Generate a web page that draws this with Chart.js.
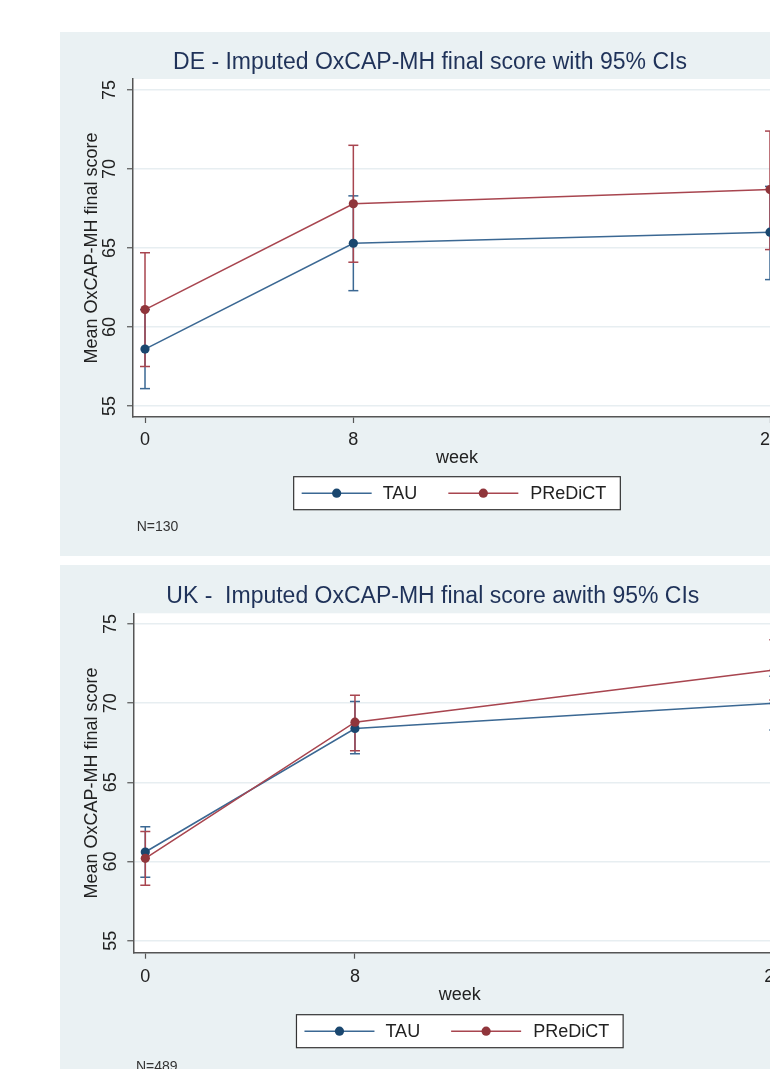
<!DOCTYPE html>
<html>
<head>
<meta charset="utf-8">
<script src="https://cdn.jsdelivr.net/npm/chart.js@4.4.1/dist/chart.umd.min.js"></script>
<style>
html, body { margin: 0; padding: 0; width: 770px; height: 1069px; overflow: hidden; background: #fff; }
.panel { position: absolute; left: 60px; width: 740px; background: #eaf1f3; }
#p1 { top: 32px; height: 524px; }
#p2 { top: 565px; height: 528px; }
canvas { display: block; }
</style>
</head>
<body>
<div class="panel" id="p1"><canvas id="c1" width="740" height="524"></canvas></div>
<div class="panel" id="p2"><canvas id="c2" width="740" height="528"></canvas></div>
<script>
var weeks = [0, 8, 24];
var yTicks = [55, 60, 65, 70, 75];
var seriesNames = ['TAU', 'PReDiCT'];

// DE, N=130
var deTau = [58.6, 65.3, 66.0];
var deTauLo = [56.1, 62.3, 63.0];
var deTauHi = [61.1, 68.3, 68.9];
var dePredict = [61.1, 67.8, 68.7];
var dePredictLo = [57.5, 64.1, 64.9];
var dePredictHi = [64.7, 71.5, 72.4];

// UK, N=489
var ukTau = [60.6, 68.4, 70.0];
var ukTauLo = [59.0, 66.8, 68.3];
var ukTauHi = [62.2, 70.1, 71.7];
var ukPredict = [60.2, 68.8, 72.1];
var ukPredictLo = [58.5, 67.0, 70.2];
var ukPredictHi = [61.9, 70.5, 74.0];

var dotColors = ['#1a476f', '#90353b'];
var lineColors = ['#3b6893', '#a8454f'];

Chart.defaults.font.family = '"Liberation Sans", Arial, sans-serif';

function points(vals) {
  return weeks.map(function(w, i) { return {x: w, y: vals[i]}; });
}

// vertical CI segments, broken apart by null points
function ciPoints(lo, hi) {
  var pts = [];
  weeks.forEach(function(w, i) {
    pts.push({x: w, y: lo[i]}, {x: w, y: hi[i]}, {x: w, y: null});
  });
  return pts;
}

function lineSet(k, vals) {
  return {
    label: seriesNames[k],
    data: points(vals),
    showLine: true,
    borderColor: lineColors[k],
    borderWidth: 1.6,
    pointRadius: 4.6,
    pointBackgroundColor: dotColors[k],
    pointBorderWidth: 0
  };
}

function ciSet(k, lo, hi) {
  return {
    label: seriesNames[k] + ' CI',
    data: ciPoints(lo, hi),
    showLine: true,
    spanGaps: false,
    borderColor: lineColors[k],
    borderWidth: 1.5,
    pointStyle: 'line',
    pointRadius: 5,
    pointBorderColor: lineColors[k],
    pointBorderWidth: 1.5
  };
}

// white plot region on the tinted graph background
var plotRegion = {
  id: 'plotRegion',
  beforeDraw: function(chart) {
    var a = chart.chartArea;
    chart.ctx.save();
    chart.ctx.fillStyle = '#fff';
    chart.ctx.fillRect(a.left, a.top, a.right - a.left, a.bottom - a.top);
    chart.ctx.restore();
  }
};

// Stata style legend box + note under the plot
var boxLegend = {
  id: 'boxLegend',
  afterDraw: function(chart, args, opts) {
    var ctx = chart.ctx, a = chart.chartArea;
    ctx.save();
    ctx.font = '18px "Liberation Sans", Arial, sans-serif';
    var w0 = ctx.measureText(seriesNames[0]).width;
    var w1 = ctx.measureText(seriesNames[1]).width;
    var sym = 70;
    var W = 8 + sym + 11 + w0 + 31 + sym + 12 + w1 + 14;
    var H = 33;
    var left = (a.left + a.right) / 2 - W / 2;
    var top = a.bottom + opts.legendGap;
    ctx.fillStyle = '#fff';
    ctx.fillRect(left, top, W, H);
    ctx.strokeStyle = '#333';
    ctx.lineWidth = 1.2;
    ctx.strokeRect(left, top, W, H);
    var cy = top + H / 2;
    var x = left + 8;
    [w0, w1].forEach(function(tw, k) {
      ctx.strokeStyle = lineColors[k];
      ctx.lineWidth = 1.6;
      ctx.beginPath();
      ctx.moveTo(x, cy);
      ctx.lineTo(x + sym, cy);
      ctx.stroke();
      ctx.fillStyle = dotColors[k];
      ctx.beginPath();
      ctx.arc(x + sym / 2, cy, 4.6, 0, Math.PI * 2);
      ctx.fill();
      x += sym + (k ? 12 : 11);
      ctx.fillStyle = '#222';
      ctx.textBaseline = 'middle';
      ctx.textAlign = 'left';
      ctx.fillText(seriesNames[k], x, cy + 1);
      x += tw + 31;
    });
    ctx.font = '14px "Liberation Sans", Arial, sans-serif';
    ctx.fillStyle = '#333';
    ctx.fillText(opts.note, a.left + opts.noteX, a.bottom + opts.noteY);
    ctx.restore();
  }
};

function makeChart(id, title, sets, g) {
  return new Chart(document.getElementById(id), {
    type: 'scatter',
    data: { datasets: sets },
    plugins: [plotRegion, boxLegend],
    options: {
      responsive: false,
      animation: false,
      events: [],
      layout: { padding: { left: g.padLeft, right: g.padRight, top: 0, bottom: g.padBottom } },
      plugins: {
        legend: { display: false },
        tooltip: { enabled: false },
        title: {
          display: true,
          text: title,
          color: '#1f3259',
          font: { size: 23, weight: 'normal' },
          padding: { top: g.titleTop, bottom: g.titleBottom }
        },
        boxLegend: { legendGap: g.legendGap, note: g.note, noteX: g.noteX, noteY: g.noteY }
      },
      scales: {
        x: {
          type: 'linear',
          min: g.xMin,
          max: g.xMax,
          afterBuildTicks: function(s) { s.ticks = weeks.map(function(v) { return {value: v}; }); },
          afterFit: function(s) { s.height = g.xHeight; },
          ticks: { color: '#222', font: { size: 18 }, padding: g.xPad, maxRotation: 0 },
          grid: { drawOnChartArea: false, tickLength: 6, tickColor: '#555', tickWidth: 1.2 },
          border: { color: '#555', width: 1.5 },
          title: { display: true, text: 'week', color: '#222', font: { size: 18 }, padding: { top: 0, bottom: 0 } }
        },
        y: {
          min: g.yMin,
          max: g.yMax,
          afterBuildTicks: function(s) { s.ticks = yTicks.map(function(v) { return {value: v}; }); },
          afterFit: function(s) { s.width = 54; },
          ticks: { color: '#222', font: { size: 18 }, padding: g.yPad, minRotation: 90, maxRotation: 90, crossAlign: 'center' },
          grid: { color: '#e7eef1', lineWidth: 1.5, tickLength: 6, tickColor: '#555', tickWidth: 1.2 },
          border: { color: '#555', width: 1.5 },
          title: { display: true, text: 'Mean OxCAP-MH final score', color: '#222', font: { size: 18 }, padding: { top: 2.2, bottom: 0 } }
        }
      }
    }
  });
}

makeChart('c1', 'DE - Imputed OxCAP-MH final score with 95% CIs', [
  lineSet(1, dePredict),
  lineSet(0, deTau),
  ciSet(1, dePredictLo, dePredictHi),
  ciSet(0, deTauLo, deTauHi)
], {
  padLeft: 19, padRight: 19, padBottom: 87,
  titleTop: 17.2, titleBottom: 2.2,
  xMin: -0.461, xMax: 24.422, yMin: 54.304, yMax: 75.696,
  xHeight: 52, xPad: 6, yPad: 6.7,
  legendGap: 59.7, note: 'N=130', noteX: 3.7, noteY: 110.3
});

makeChart('c2', 'UK -  Imputed OxCAP-MH final score awith 95% CIs', [
  lineSet(1, ukPredict),
  lineSet(0, ukTau),
  ciSet(1, ukPredictLo, ukPredictHi),
  ciSet(0, ukTauLo, ukTauHi)
], {
  padLeft: 19.3, padRight: 13.7, padBottom: 87.4,
  titleTop: 17.8, titleBottom: 2.9,
  xMin: -0.458, xMax: 24.458, yMin: 54.242, yMax: 75.676,
  xHeight: 52.9, xPad: 7.4, yPad: 6.6,
  legendGap: 62, note: 'N=489', noteX: 2.7, noteY: 114.3
});
</script>
</body>
</html>
